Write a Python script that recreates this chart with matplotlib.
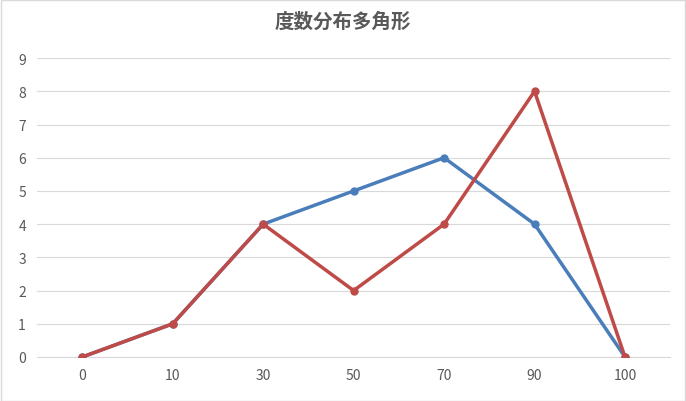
import matplotlib
matplotlib.use("Agg")
import matplotlib.pyplot as plt

categories = ["0", "10", "30", "50", "70", "90", "100"]
series_blue = [0, 1, 4, 5, 6, 4, 0]
series_red = [0, 1, 4, 2, 4, 8, 0]
title = "度数分布多角形"

plt.rcParams['font.family'] = ['Noto Sans CJK JP', 'DejaVu Sans']
fig = plt.figure(figsize=(6.86, 4.02), dpi=100)
fig.patches.append(plt.Rectangle((0.001, 0.001), 0.998, 0.997, transform=fig.transFigure,
                                 fill=False, edgecolor="#d9d9d9", linewidth=1))
ax = fig.add_axes([0.054, 0.1095, 0.923, 0.7435])
x = list(range(len(categories)))
ax.plot(x, series_blue, color="#4a7ebb", lw=2.5, marker="o", ms=5, zorder=3)
ax.plot(x, series_red, color="#be4b48", lw=2.5, marker="o", ms=5, zorder=4)
ax.set_xlim(-0.5, 6.5)
ax.set_ylim(0, 9)
ax.set_yticks(range(10))
ax.set_xticks(x)
ax.set_xticklabels(categories)
ax.grid(axis="y", color="#d9d9d9", lw=0.8)
ax.set_axisbelow(True)
for s in ["top", "right", "left"]:
    ax.spines[s].set_visible(False)
ax.spines["bottom"].set_color("#d9d9d9")
ax.tick_params(length=0, labelsize=10, colors="#595959", pad=8)
fig.text(0.5, 0.945, title, ha="center", va="center", fontsize=14, color="#595959", fontweight="bold")
fig.savefig("out.png", dpi=100)
